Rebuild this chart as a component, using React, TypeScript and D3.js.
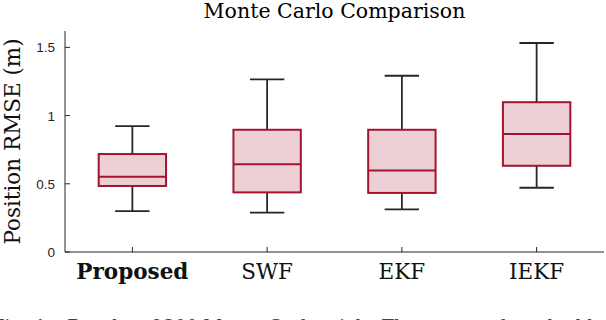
import React from 'react';
import * as d3 from 'd3';

// box plot summary per method
const methods = ['Proposed', 'SWF', 'EKF', 'IEKF'];
const whiskerLow = [0.3, 0.288, 0.312, 0.471];
const q1 = [0.484, 0.437, 0.433, 0.632];
const medians = [0.551, 0.643, 0.598, 0.865];
const q3 = [0.718, 0.896, 0.896, 1.098];
const whiskerHigh = [0.922, 1.266, 1.292, 1.532];
const yTicks = [0, 0.5, 1, 1.5];

const W = 606, H = 320;
const margin = {left: 65, right: 2, top: 31, bottom: 68};
const serif = '"DejaVu Serif", serif';
const sans = '"Liberation Sans", Arial, sans-serif';
const ink = '#262626';
const boxColor = '#a2142f';

export default function App() {
  const x = d3.scaleLinear().domain([0.5, methods.length + 0.5]).range([margin.left, W - margin.right]);
  const y = d3.scaleLinear().domain([0, 1.62]).range([H - margin.bottom, margin.top]);
  const boxW = x(0.5) - x(0);
  const capW = x(0.255) - x(0);

  return (
    <svg width={W} height={H} style={{position: 'absolute', left: 0, top: 0}}>
      <rect width={W} height={H} fill="#fff" />
      <text x={(x(0.5) + x(4.5)) / 2} y={18} textAnchor="middle" fontFamily={serif} fontSize={20.5} fill="#000">
        Monte Carlo Comparison
      </text>

      {methods.map((m, i) => {
        const cx = x(i + 1);
        return (
          <g key={m}>
            <line x1={cx} x2={cx} y1={y(whiskerHigh[i])} y2={y(q3[i])} stroke={ink} strokeWidth={1.8} />
            <line x1={cx} x2={cx} y1={y(whiskerLow[i])} y2={y(q1[i])} stroke={ink} strokeWidth={1.8} />
            <line x1={cx - capW / 2} x2={cx + capW / 2} y1={y(whiskerHigh[i])} y2={y(whiskerHigh[i])} stroke={ink} strokeWidth={1.8} />
            <line x1={cx - capW / 2} x2={cx + capW / 2} y1={y(whiskerLow[i])} y2={y(whiskerLow[i])} stroke={ink} strokeWidth={1.8} />
            <rect x={cx - boxW / 2} y={y(q3[i])} width={boxW} height={y(q1[i]) - y(q3[i])}
              fill={boxColor} fillOpacity={0.2} stroke={boxColor} strokeWidth={2} />
            <line x1={cx - boxW / 2} x2={cx + boxW / 2} y1={y(medians[i])} y2={y(medians[i])} stroke={boxColor} strokeWidth={2} />
          </g>
        );
      })}

      {/* axes */}
      <line x1={x(0.5)} x2={x(0.5)} y1={margin.top} y2={y(0)} stroke={ink} strokeWidth={1} />
      <line x1={x(0.5)} x2={x(4.5)} y1={y(0)} y2={y(0)} stroke={ink} strokeWidth={1} />
      {yTicks.map(t => (
        <g key={t}>
          <line x1={x(0.5)} x2={x(0.5) + 5} y1={y(t)} y2={y(t)} stroke={ink} />
          <text x={x(0.5) - 10} y={y(t) + 5} textAnchor="end" fontFamily={sans} fontSize={13.5} fill={ink}>{t}</text>
        </g>
      ))}
      {methods.map((m, i) => (
        <g key={'t' + m}>
          <line x1={x(i + 1)} x2={x(i + 1)} y1={y(0)} y2={y(0) - 5} stroke={ink} />
          <text x={x(i + 1)} y={279} textAnchor="middle" fontFamily={serif} fontSize={21.5}
            fontWeight={i === 0 ? 'bold' : 'normal'} fill="#111">{m}</text>
        </g>
      ))}

      <text transform={`translate(20,${(margin.top + y(0)) / 2}) rotate(-90)`} textAnchor="middle"
        fontFamily={serif} fontSize={21.5} fill="#111">Position RMSE (m)</text>

      <text x={-8} y={333} fontFamily={serif} fontSize={18} fill="#444">
        Fig. 4a: Results of 200 Monte Carlo trials. The proposed method has the lowest error and the smallest spread of all filters.
      </text>
    </svg>
  );
}
